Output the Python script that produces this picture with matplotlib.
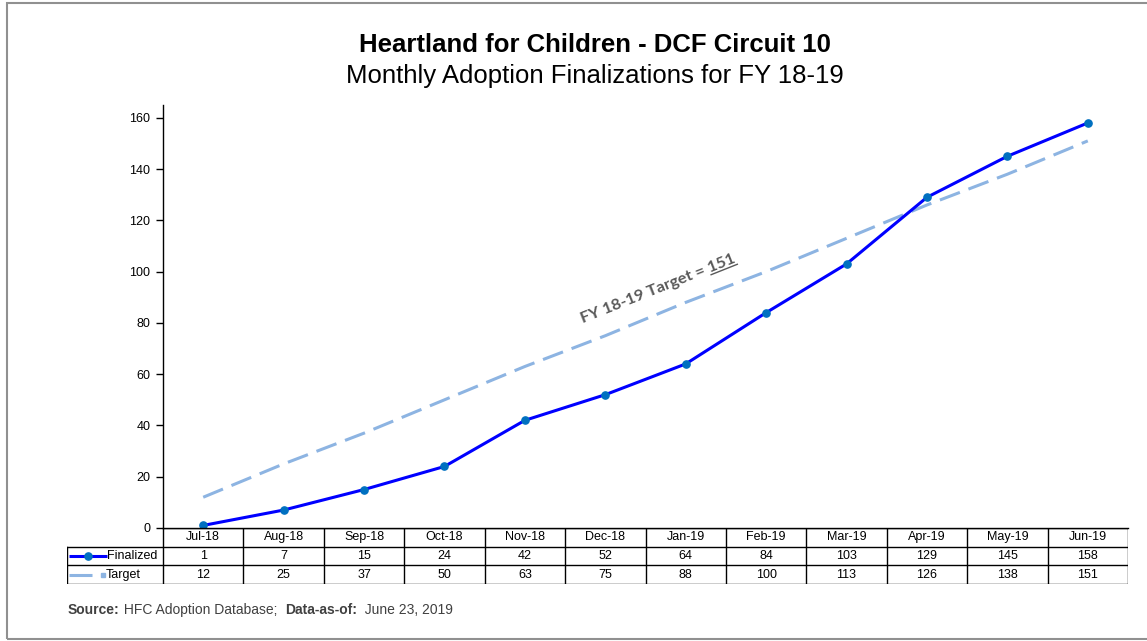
"""
Heartland for Children - monthly adoption finalizations vs target, FY 18-19.
Line chart with an Excel-style data table underneath.
Outputs: out.png
"""

import numpy as np
import matplotlib
matplotlib.use("Agg")
import matplotlib.pyplot as plt
from matplotlib.lines import Line2D
from matplotlib.patches import Rectangle

plt.rcParams["font.family"] = ["Liberation Sans", "DejaVu Sans"]

months = ["Jul-18", "Aug-18", "Sep-18", "Oct-18", "Nov-18", "Dec-18",
          "Jan-19", "Feb-19", "Mar-19", "Apr-19", "May-19", "Jun-19"]
finalized = [1, 7, 15, 24, 42, 52, 64, 84, 103, 129, 145, 158]
target = [12, 25, 37, 50, 63, 75, 88, 100, 113, 126, 138, 151]
fy_target = 151
yticks = [0, 20, 40, 60, 80, 100, 120, 140, 160]

BLUE = "#0000FF"
MARK = "#0070C0"
LIGHT = "#8DB4E2"

W, H = 1147, 641
COLW = (1128 - 163) / 12


def fx(px):
    return px / W


def fy(py):
    return 1 - py / H


def tx(px):
    # pixel -> table-axes data x
    return -0.5 + (px - 163) / COLW


fig = plt.figure(figsize=(W / 100, H / 100), dpi=100)
renderer = fig.canvas.get_renderer()

# outer frame
fig.add_artist(Rectangle((fx(7), fy(639)), 1.2, fy(3) - fy(639),
                         transform=fig.transFigure, fill=False,
                         edgecolor="#909090", linewidth=1.5))

# ── main chart ──────────────────────────────────────────────────────────────
ax = fig.add_axes([fx(163), fy(528), (1128 - 163) / W, (528 - 105) / H])
x = np.arange(len(months))
ax.plot(x, target, color=LIGHT, linewidth=2.2, dashes=(7, 3),
        solid_capstyle="butt", dash_capstyle="butt")
ax.plot(x, finalized, color=BLUE, linewidth=2.2, marker="o",
        markersize=5.2, markerfacecolor=MARK, markeredgecolor=MARK)
ax.set_xlim(-0.5, len(months) - 0.5)
ax.set_ylim(0, 165)
ax.set_yticks(yticks)
ax.set_xticks([])
ax.tick_params(axis="y", direction="out", length=5, width=1,
               labelsize=9, pad=4)
for s in ("top", "right"):
    ax.spines[s].set_visible(False)
for s in ("left", "bottom"):
    ax.spines[s].set_linewidth(1)
    ax.spines[s].set_color("black")

# ── titles ──────────────────────────────────────────────────────────────────
fig.text(fx(595), fy(45), "Heartland for Children - DCF Circuit 10",
         ha="center", va="center", fontsize=18.5, fontweight="bold")
fig.text(fx(595), fy(76), "Monthly Adoption Finalizations for FY 18-19",
         ha="center", va="center", fontsize=18.5)

# ── rotated target annotation with underlined number ────────────────────────
ang = 21.7
ax_px, ay_px = 583, 641 - 323
prefix = "FY 18-19 Target = "
num = str(fy_target)
afont = dict(family=["Lato", "DejaVu Sans"], fontweight="bold",
             fontsize=11.8, color="#595959")
fig.text(ax_px / W, ay_px / H, prefix + num, rotation=ang,
         rotation_mode="anchor", ha="left", va="baseline", **afont)


def text_width(s, **kw):
    a = fig.text(0, 0, "x" + s + "x", **kw)
    b = fig.text(0, 0, "xx", **kw)
    w = a.get_window_extent(renderer).width - b.get_window_extent(renderer).width
    a.remove()
    b.remove()
    return w


w_pre = text_width(prefix, **afont)
w_num = text_width(num, **afont)
c, s_ = np.cos(np.radians(ang)), np.sin(np.radians(ang))
off = 2.5
p0 = np.array([ax_px + w_pre * c + off * s_, ay_px + w_pre * s_ - off * c])
p1 = p0 + w_num * np.array([c, s_])
fig.add_artist(Line2D([p0[0] / W, p1[0] / W], [p0[1] / H, p1[1] / H],
                      transform=fig.transFigure, color="#595959",
                      linewidth=1.0))

# ── data table ──────────────────────────────────────────────────────────────
tab = fig.add_axes([fx(67), fy(584), (1128 - 67) / W, (584 - 528) / H])
left = tx(67)
right = len(months) - 0.5
tab.set_xlim(left, right)
tab.set_ylim(0, 3)
tab.axis("off")

lk = dict(color="black", linewidth=1, solid_capstyle="projecting")
tab.plot([-0.5, right], [3, 3], **lk)
for yy in (0, 1, 2):
    tab.plot([left, right], [yy, yy], **lk)
tab.plot([left, left], [0, 2], **lk)
for i in range(len(months) + 1):
    tab.plot([i - 0.5, i - 0.5], [0, 3], **lk)

tfs = 9
for i, m in enumerate(months):
    tab.text(i, 2.5, m, ha="center", va="center", fontsize=tfs)
    tab.text(i, 1.5, str(finalized[i]), ha="center", va="center", fontsize=tfs)
    tab.text(i, 0.5, str(target[i]), ha="center", va="center", fontsize=tfs)

# legend keys
tab.plot([tx(69), tx(107)], [1.5, 1.5], color=BLUE, linewidth=2.2,
         solid_capstyle="butt")
tab.plot([tx(88)], [1.5], marker="o", markersize=5.2, color=MARK)
tab.text(tx(107), 1.5, "Finalized", ha="left", va="center", fontsize=tfs)
tab.plot([tx(69), tx(92)], [0.5, 0.5], color=LIGHT, linewidth=2.2,
         solid_capstyle="butt")
tab.plot([tx(103)], [0.5], marker="s", markersize=2.2, color=LIGHT)
tab.text(tx(106), 0.5, "Target", ha="left", va="center", fontsize=tfs)

# ── footer ──────────────────────────────────────────────────────────────────
parts = [("Source:", "bold"), (" HFC Adoption Database;  ", "normal"),
         ("Data-as-of:", "bold"), ("  June 23, 2019", "normal")]
px = 68
for txt, wt in parts:
    kw = dict(fontsize=10, fontweight=wt, color="#404040")
    fig.text(px / W, fy(614), txt, ha="left", va="baseline", **kw)
    px += text_width(txt, **kw)

fig.savefig("out.png", dpi=100)
plt.close(fig)
